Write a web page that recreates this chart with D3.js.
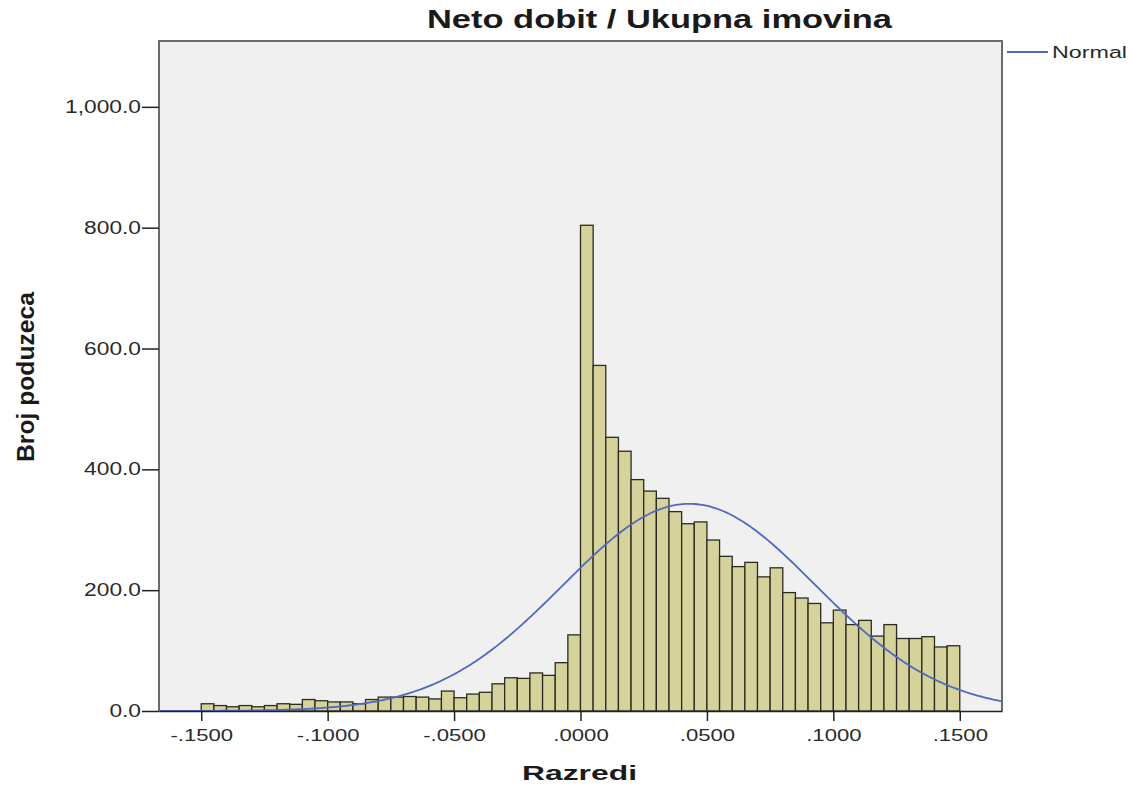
<!DOCTYPE html>
<html>
<head>
<meta charset="utf-8">
<script src="https://cdn.jsdelivr.net/npm/d3@7"></script>
<style>
  body { margin: 0; background: #fff; }
  svg text { font-family: "Liberation Sans", Arial, sans-serif; }
</style>
</head>
<body>
<div id="chart"></div>
<script>
// histogram bins: start of first bin and width
const binStart = -0.15;
const binWidth = 0.005;
// counts per bin (-.1500 ... .1450)
const counts = [
  12, 9, 7, 9, 7, 9, 12, 11, 19, 17,
  15, 15, 12, 19, 23, 23, 24, 23, 20, 33,
  22, 28, 31, 45, 55, 54, 63, 59, 80, 126,
  804, 572, 453, 430, 383, 364, 352, 330, 310, 313,
  283, 256, 239, 246, 222, 237, 196, 187, 178, 146,
  167, 143, 150, 124, 143, 120, 120, 123, 106, 108
];
const xTicks = [-0.15, -0.1, -0.05, 0, 0.05, 0.1, 0.15];
const yTicks = [0, 200, 400, 600, 800, 1000];
// fitted normal overlay (SPSS style)
const normalMean = 0.043;
const normalSd = 0.05;
const normalPeak = 343;

const width = 1132, height = 790;
const margin = { top: 41, right: 130, bottom: 79, left: 159 };
// the source picture is stretched sideways, so text is widened too
const stretch = 1.3;

const svg = d3.select("#chart").append("svg")
  .attr("width", width)
  .attr("height", height);

const x = d3.scaleLinear()
  .domain([-0.1667, 0.1667])
  .range([margin.left, width - margin.right]);
const y = d3.scaleLinear()
  .domain([0, 1109])
  .range([height - margin.bottom, margin.top]);

function widen(sel, len) {
  sel.each(function () {
    const w = len || this.getComputedTextLength() * stretch;
    d3.select(this).attr("textLength", w).attr("lengthAdjust", "spacingAndGlyphs");
  });
}

// plot background
svg.append("rect")
  .attr("x", margin.left).attr("y", margin.top)
  .attr("width", x.range()[1] - margin.left)
  .attr("height", y.range()[0] - margin.top)
  .attr("fill", "#f0f0f0");

// bars
const bins = counts.map((c, i) => ({ x0: binStart + i * binWidth, x1: binStart + (i + 1) * binWidth, c }));
svg.append("g").selectAll("rect")
  .data(bins)
  .join("rect")
  .attr("x", d => x(d.x0))
  .attr("y", d => y(d.c))
  .attr("width", d => x(d.x1) - x(d.x0))
  .attr("height", d => y(0) - y(d.c))
  .attr("fill", "#d6d29b")
  .attr("stroke", "#2b2b22")
  .attr("stroke-width", 1.3);

// normal curve
const curvePts = d3.range(x.domain()[0], x.domain()[1] + 1e-9, 0.001).map(v => [
  v, normalPeak * Math.exp(-((v - normalMean) ** 2) / (2 * normalSd * normalSd))
]);
svg.append("path")
  .datum(curvePts)
  .attr("fill", "none")
  .attr("stroke", "#5068c0")
  .attr("stroke-width", 1.8)
  .attr("d", d3.line().x(d => x(d[0])).y(d => y(d[1])).curve(d3.curveBasis));

// frame
svg.append("path")
  .attr("d", `M${margin.left},${y(0)}V${margin.top}H${x.range()[1]}V${y(0)}`)
  .attr("fill", "none")
  .attr("stroke", "#6a6a6a")
  .attr("stroke-width", 2);

// axes
const fmtX = v => {
  const s = d3.format(".4f")(Math.abs(v)).replace(/^0/, "");
  return (v < 0 ? "-" : "") + s;
};
const xAxis = svg.append("g")
  .attr("transform", `translate(0,${y(0)})`)
  .call(d3.axisBottom(x).tickValues(xTicks).tickFormat(fmtX).tickSize(10).tickSizeOuter(0));
xAxis.select(".domain").attr("stroke", "#222").attr("stroke-width", 1.5);
xAxis.selectAll(".tick line").attr("stroke", "#222").attr("stroke-width", 1.5);
xAxis.selectAll(".tick text").attr("font-size", 17).attr("fill", "#2a2a2a")
  .attr("y", 30).attr("dy", 0).call(widen);

const yAxis = svg.append("g")
  .attr("transform", `translate(${margin.left},0)`)
  .call(d3.axisLeft(y).tickValues(yTicks).tickFormat(d3.format(",.1f")).tickSize(17).tickPadding(1).tickSizeOuter(0));
yAxis.select(".domain").remove();
yAxis.selectAll(".tick line").attr("stroke", "#222").attr("stroke-width", 1.5);
yAxis.selectAll(".tick text").attr("font-size", 17.5).attr("fill", "#2a2a2a").call(widen);

// titles
svg.append("text")
  .attr("x", 427).attr("y", 28)
  .attr("font-size", 25).attr("font-weight", "bold").attr("fill", "#1a1a1a")
  .text("Neto dobit / Ukupna imovina")
  .call(widen, 465);
svg.append("text")
  .attr("x", 522).attr("y", 780)
  .attr("font-size", 21).attr("font-weight", "bold").attr("fill", "#1a1a1a")
  .text("Razredi")
  .call(widen, 115);
svg.append("text")
  .attr("transform", "translate(34,377) rotate(-90)")
  .attr("text-anchor", "middle")
  .attr("font-size", 23).attr("font-weight", "bold").attr("fill", "#1a1a1a")
  .text("Broj poduzeca")
  .call(widen, 170);

// legend
const lg = svg.append("g").attr("transform", "translate(1007,52)");
lg.append("line").attr("x1", 0).attr("x2", 41).attr("stroke", "#5068c0").attr("stroke-width", 1.8);
lg.append("text").attr("x", 45).attr("y", 6)
  .attr("font-size", 16).attr("fill", "#2a2a2a").text("Normal")
  .call(widen, 75);
</script>
</body>
</html>
